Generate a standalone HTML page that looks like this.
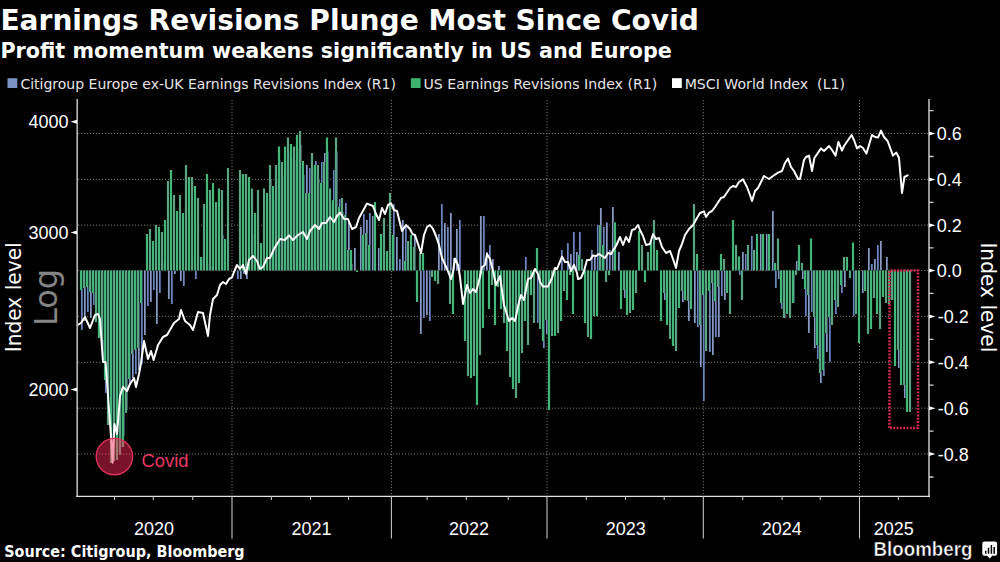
<!DOCTYPE html><html><head><meta charset="utf-8"><title>Earnings Revisions Plunge Most Since Covid</title>
<style>html,body{margin:0;padding:0;background:#000;}body{width:1000px;height:562px;overflow:hidden;}svg{display:block;}.t{font-family:"DejaVu Sans","Liberation Sans",sans-serif;font-weight:bold;fill:#fff;}.n{font-family:"Liberation Sans",sans-serif;fill:#fff;font-size:18px;}.l{font-family:"DejaVu Sans","Liberation Sans",sans-serif;fill:#e6e6e6;font-size:14.5px;}</style></head><body>
<svg width="1000" height="562" viewBox="0 0 1000 562">
<rect width="1000" height="562" fill="#000"/>
<text class="t" x="0.4" y="30.3" font-size="28.8" textLength="698.5" lengthAdjust="spacingAndGlyphs">Earnings Revisions Plunge Most Since Covid</text>
<text class="t" x="0.4" y="57.6" font-size="20.9" textLength="671.5" lengthAdjust="spacingAndGlyphs">Profit momentum weakens significantly in US and Europe</text>
<rect x="7.5" y="78.2" width="9.8" height="9.8" fill="#7b93c4"/>
<text class="l" x="20.4" y="88.8" textLength="375.6" lengthAdjust="spacingAndGlyphs">Citigroup Europe ex-UK Earnings Revisions Index (R1)</text>
<rect x="410.8" y="78.2" width="9.8" height="9.8" fill="#3db36f"/>
<text class="l" x="423.5" y="88.8" textLength="233.8" lengthAdjust="spacingAndGlyphs">US Earnings Revisions Index (R1)</text>
<rect x="672" y="78.2" width="9.8" height="9.8" fill="#ffffff"/>
<text class="l" x="684.7" y="88.8" textLength="160.3" lengthAdjust="spacingAndGlyphs" xml:space="preserve">MSCI World Index  (L1)</text>
<path d="M78 133.5 H928 M78 179.4 H928 M78 225.2 H928 M78 270.4 H928 M78 316.4 H928 M78 362.3 H928 M78 408.2 H928 M78 454 H928 M232 100 V495 M391.4 100 V495 M547 100 V495 M703.3 100 V495 M859.5 100 V495" stroke="#757575" stroke-width="1" stroke-dasharray="1.2 1.8" fill="none"/>
<path d="M80.7 270.4v59.6h2.2v-59.6zM83.7 270.4v50.6h2.2v-50.6zM86.7 270.4v41.6h2.2v-41.6zM89.7 270.4v47.6h2.2v-47.6zM92.7 270.4v34.6h2.2v-34.6zM95.7 270.4v40.6h2.2v-40.6zM98.7 270.4v67.6h2.2v-67.6zM101.7 270.4v91.6h2.2v-91.6zM104.7 270.4v122.6h2.2v-122.6zM107.7 270.4v151.6h2.2v-151.6zM110.7 270.4v179.6h2.2v-179.6zM113.7 270.4v184.6h2.2v-184.6zM116.7 270.4v181.6h2.2v-181.6zM119.7 270.4v176.6h2.2v-176.6zM122.7 270.4v165.6h2.2v-165.6zM125.7 270.4v139.6h2.2v-139.6zM128.7 270.4v114.6h2.2v-114.6zM131.7 270.4v107.6h2.2v-107.6zM134.7 270.4v103.6h2.2v-103.6zM137.7 270.4v99.6h2.2v-99.6zM140.7 270.4v93.6h2.2v-93.6zM143.7 270.4v64.6h2.2v-64.6zM146.7 270.4v35.6h2.2v-35.6zM149.7 270.4v31.6h2.2v-31.6zM152.7 270.4v19.6h2.2v-19.6zM155.7 270.4v53.6h2.2v-53.6zM158.7 270.4v22.6h2.2v-22.6zM161.7 263v7.4h2.2v-7.4zM167.7 270.4v28.6h2.2v-28.6zM170.7 270.4v33.6h2.2v-33.6zM173.7 270.4v3.6h2.2v-3.6zM179.7 270.4v10.6h2.2v-10.6zM182.7 270.4v15.6h2.2v-15.6zM194.7 270.4v8.6h2.2v-8.6zM200.7 257v13.4h2.2v-13.4zM206.7 264v6.4h2.2v-6.4zM209.7 266v4.4h2.2v-4.4zM221.7 235v35.4h2.2v-35.4zM236.7 270.4v8.6h2.2v-8.6zM239.7 270.4v8.6h2.2v-8.6zM242.7 270.4v3.6h2.2v-3.6zM245.7 270.4v8.6h2.2v-8.6zM251.7 234v36.4h2.2v-36.4zM269.7 179v91.4h2.2v-91.4zM272.7 200v70.4h2.2v-70.4zM275.7 179v91.4h2.2v-91.4zM278.7 160.6v109.8h2.2v-109.8zM281.7 176v94.4h2.2v-94.4zM284.7 160.6v109.8h2.2v-109.8zM287.7 151.4v119h2.2v-119zM290.7 158v112.4h2.2v-112.4zM293.7 160.6v109.8h2.2v-109.8zM296.7 149v121.4h2.2v-121.4zM299.7 145v125.4h2.2v-125.4zM302.7 175v95.4h2.2v-95.4zM305.7 165v105.4h2.2v-105.4zM308.7 168v102.4h2.2v-102.4zM311.7 167v103.4h2.2v-103.4zM314.7 161v109.4h2.2v-109.4zM317.7 179v91.4h2.2v-91.4zM320.7 162v108.4h2.2v-108.4zM323.7 153v117.4h2.2v-117.4zM326.7 151.4v119h2.2v-119zM329.7 202.6v67.8h2.2v-67.8zM332.7 170v100.4h2.2v-100.4zM335.7 151.4v119h2.2v-119zM338.7 199v71.4h2.2v-71.4zM341.7 212v58.4h2.2v-58.4zM344.7 203v67.4h2.2v-67.4zM347.7 222v48.4h2.2v-48.4zM350.7 264v6.4h2.2v-6.4zM353.7 248v22.4h2.2v-22.4zM359.7 227v43.4h2.2v-43.4zM362.7 214v56.4h2.2v-56.4zM365.7 220v50.4h2.2v-50.4zM368.7 213v57.4h2.2v-57.4zM371.7 216v54.4h2.2v-54.4zM377.7 248v22.4h2.2v-22.4zM392.7 204v66.4h2.2v-66.4zM395.7 237v33.4h2.2v-33.4zM398.7 259v11.4h2.2v-11.4zM401.7 220v50.4h2.2v-50.4zM404.7 227v43.4h2.2v-43.4zM413.7 235v35.4h2.2v-35.4zM419.7 270.4v63.6h2.2v-63.6zM422.7 270.4v47.6h2.2v-47.6zM425.7 270.4v44.6h2.2v-44.6zM428.7 270.4v50.6h2.2v-50.6zM437.7 234v36.4h2.2v-36.4zM440.7 204v66.4h2.2v-66.4zM443.7 223v47.4h2.2v-47.4zM446.7 227v43.4h2.2v-43.4zM449.7 213v57.4h2.2v-57.4zM452.7 258v12.4h2.2v-12.4zM455.7 229v41.4h2.2v-41.4zM458.7 220v50.4h2.2v-50.4zM479.7 216v54.4h2.2v-54.4zM482.7 216v54.4h2.2v-54.4zM485.7 252v18.4h2.2v-18.4zM488.7 245v25.4h2.2v-25.4zM491.7 259v11.4h2.2v-11.4zM497.7 266v4.4h2.2v-4.4zM524.7 257v13.4h2.2v-13.4zM536.7 270.4v52.6h2.2v-52.6zM542.7 270.4v77.6h2.2v-77.6zM545.7 270.4v63.6h2.2v-63.6zM560.7 250v20.4h2.2v-20.4zM566.7 243v27.4h2.2v-27.4zM569.7 254v16.4h2.2v-16.4zM572.7 232v38.4h2.2v-38.4zM575.7 252v18.4h2.2v-18.4zM578.7 232v38.4h2.2v-38.4zM590.7 250v20.4h2.2v-20.4zM593.7 256v14.4h2.2v-14.4zM596.7 225v45.4h2.2v-45.4zM599.7 208v62.4h2.2v-62.4zM602.7 227v43.4h2.2v-43.4zM605.7 222.6v47.8h2.2v-47.8zM608.7 250v20.4h2.2v-20.4zM611.7 207v63.4h2.2v-63.4zM617.7 252v18.4h2.2v-18.4zM623.7 270.4v27.6h2.2v-27.6zM663.7 270.4v29.6h2.2v-29.6zM681.7 270.4v31.6h2.2v-31.6zM687.7 270.4v50.6h2.2v-50.6zM693.7 270.4v52.6h2.2v-52.6zM696.7 270.4v56.6h2.2v-56.6zM699.7 270.4v96.6h2.2v-96.6zM702.7 270.4v130.6h2.2v-130.6zM708.7 270.4v81.6h2.2v-81.6zM711.7 270.4v84.6h2.2v-84.6zM714.7 270.4v66.6h2.2v-66.6zM717.7 270.4v66.6h2.2v-66.6zM720.7 270.4v25.6h2.2v-25.6zM723.7 270.4v29.6h2.2v-29.6zM738.7 270.4v4.6h2.2v-4.6zM741.7 252v18.4h2.2v-18.4zM744.7 254v16.4h2.2v-16.4zM750.7 236v34.4h2.2v-34.4zM759.7 234v36.4h2.2v-36.4zM765.7 234v36.4h2.2v-36.4zM771.7 211v59.4h2.2v-59.4zM774.7 270.4v17.6h2.2v-17.6zM777.7 270.4v8.6h2.2v-8.6zM780.7 270.4v38.6h2.2v-38.6zM783.7 270.4v47.6h2.2v-47.6zM792.7 270.4v32.6h2.2v-32.6zM795.7 261v9.4h2.2v-9.4zM801.7 270.4v8.6h2.2v-8.6zM804.7 270.4v45.6h2.2v-45.6zM807.7 270.4v62.6h2.2v-62.6zM810.7 270.4v41.6h2.2v-41.6zM813.7 270.4v77.6h2.2v-77.6zM816.7 270.4v88.6h2.2v-88.6zM819.7 270.4v112.6h2.2v-112.6zM822.7 270.4v105.6h2.2v-105.6zM825.7 270.4v81.6h2.2v-81.6zM828.7 270.4v91.6h2.2v-91.6zM834.7 270.4v43.6h2.2v-43.6zM840.7 270.4v22.6h2.2v-22.6zM843.7 270.4v16.6h2.2v-16.6zM852.7 270.4v45.6h2.2v-45.6zM861.7 270.4v22.6h2.2v-22.6zM867.7 248v22.4h2.2v-22.4zM870.7 264v6.4h2.2v-6.4zM873.7 259v11.4h2.2v-11.4zM876.7 245v25.4h2.2v-25.4zM879.7 241v29.4h2.2v-29.4zM885.7 257v13.4h2.2v-13.4zM891.7 270.4v29.6h2.2v-29.6zM897.7 270.4v97.6h2.2v-97.6zM903.7 270.4v127.6h2.2v-127.6z" fill="#141c36"/>
<path d="M81.1 270.4v59.6h1.5v-59.6zM87.1 270.4v41.6h1.5v-41.6zM93.1 270.4v34.6h1.5v-34.6zM99.1 270.4v67.6h1.5v-67.6zM105.1 270.4v122.6h1.5v-122.6zM111.1 270.4v179.6h1.5v-179.6zM117.1 270.4v181.6h1.5v-181.6zM123.1 270.4v165.6h1.5v-165.6zM129.1 270.4v114.6h1.5v-114.6zM135.1 270.4v103.6h1.5v-103.6zM141.1 270.4v93.6h1.5v-93.6zM147.1 270.4v35.6h1.5v-35.6zM153.1 270.4v19.6h1.5v-19.6zM159.1 270.4v22.6h1.5v-22.6zM171.1 270.4v33.6h1.5v-33.6zM183.1 270.4v15.6h1.5v-15.6zM195.1 270.4v8.6h1.5v-8.6zM201.1 257v13.4h1.5v-13.4zM207.1 264v6.4h1.5v-6.4zM237.1 270.4v8.6h1.5v-8.6zM243.1 270.4v3.6h1.5v-3.6zM273.1 200v70.4h1.5v-70.4zM279.1 160.6v109.8h1.5v-109.8zM285.1 160.6v109.8h1.5v-109.8zM291.1 158v112.4h1.5v-112.4zM297.1 149v121.4h1.5v-121.4zM303.1 175v95.4h1.5v-95.4zM309.1 168v102.4h1.5v-102.4zM315.1 161v109.4h1.5v-109.4zM321.1 162v108.4h1.5v-108.4zM327.1 151.4v119h1.5v-119zM333.1 170v100.4h1.5v-100.4zM339.1 199v71.4h1.5v-71.4zM345.1 203v67.4h1.5v-67.4zM351.1 264v6.4h1.5v-6.4zM363.1 214v56.4h1.5v-56.4zM369.1 213v57.4h1.5v-57.4zM393.1 204v66.4h1.5v-66.4zM399.1 259v11.4h1.5v-11.4zM405.1 227v43.4h1.5v-43.4zM423.1 270.4v47.6h1.5v-47.6zM429.1 270.4v50.6h1.5v-50.6zM441.1 204v66.4h1.5v-66.4zM447.1 227v43.4h1.5v-43.4zM453.1 258v12.4h1.5v-12.4zM459.1 220v50.4h1.5v-50.4zM483.1 216v54.4h1.5v-54.4zM489.1 245v25.4h1.5v-25.4zM525.1 257v13.4h1.5v-13.4zM537.1 270.4v52.6h1.5v-52.6zM543.1 270.4v77.6h1.5v-77.6zM561.1 250v20.4h1.5v-20.4zM567.1 243v27.4h1.5v-27.4zM573.1 232v38.4h1.5v-38.4zM579.1 232v38.4h1.5v-38.4zM591.1 250v20.4h1.5v-20.4zM597.1 225v45.4h1.5v-45.4zM603.1 227v43.4h1.5v-43.4zM609.1 250v20.4h1.5v-20.4zM697.1 270.4v56.6h1.5v-56.6zM703.1 270.4v130.6h1.5v-130.6zM709.1 270.4v81.6h1.5v-81.6zM715.1 270.4v66.6h1.5v-66.6zM721.1 270.4v25.6h1.5v-25.6zM739.1 270.4v4.6h1.5v-4.6zM745.1 254v16.4h1.5v-16.4zM751.1 236v34.4h1.5v-34.4zM775.1 270.4v17.6h1.5v-17.6zM781.1 270.4v38.6h1.5v-38.6zM793.1 270.4v32.6h1.5v-32.6zM805.1 270.4v45.6h1.5v-45.6zM811.1 270.4v41.6h1.5v-41.6zM817.1 270.4v88.6h1.5v-88.6zM823.1 270.4v105.6h1.5v-105.6zM829.1 270.4v91.6h1.5v-91.6zM835.1 270.4v43.6h1.5v-43.6zM841.1 270.4v22.6h1.5v-22.6zM853.1 270.4v45.6h1.5v-45.6zM871.1 264v6.4h1.5v-6.4zM877.1 245v25.4h1.5v-25.4z" fill="#7891cc"/>
<path d="M84.1 270.4v50.6h1.5v-50.6zM90.1 270.4v47.6h1.5v-47.6zM96.1 270.4v40.6h1.5v-40.6zM102.1 270.4v91.6h1.5v-91.6zM108.1 270.4v151.6h1.5v-151.6zM114.1 270.4v184.6h1.5v-184.6zM120.1 270.4v176.6h1.5v-176.6zM126.1 270.4v139.6h1.5v-139.6zM132.1 270.4v107.6h1.5v-107.6zM138.1 270.4v99.6h1.5v-99.6zM144.1 270.4v64.6h1.5v-64.6zM150.1 270.4v31.6h1.5v-31.6zM156.1 270.4v53.6h1.5v-53.6zM162.1 263v7.4h1.5v-7.4zM168.1 270.4v28.6h1.5v-28.6zM174.1 270.4v3.6h1.5v-3.6zM180.1 270.4v10.6h1.5v-10.6zM210.1 266v4.4h1.5v-4.4zM222.1 235v35.4h1.5v-35.4zM240.1 270.4v8.6h1.5v-8.6zM246.1 270.4v8.6h1.5v-8.6zM252.1 234v36.4h1.5v-36.4zM270.1 179v91.4h1.5v-91.4zM276.1 179v91.4h1.5v-91.4zM282.1 176v94.4h1.5v-94.4zM288.1 151.4v119h1.5v-119zM294.1 160.6v109.8h1.5v-109.8zM300.1 145v125.4h1.5v-125.4zM306.1 165v105.4h1.5v-105.4zM312.1 167v103.4h1.5v-103.4zM318.1 179v91.4h1.5v-91.4zM324.1 153v117.4h1.5v-117.4zM330.1 202.6v67.8h1.5v-67.8zM336.1 151.4v119h1.5v-119zM342.1 212v58.4h1.5v-58.4zM348.1 222v48.4h1.5v-48.4zM354.1 248v22.4h1.5v-22.4zM360.1 227v43.4h1.5v-43.4zM366.1 220v50.4h1.5v-50.4zM372.1 216v54.4h1.5v-54.4zM378.1 248v22.4h1.5v-22.4zM396.1 237v33.4h1.5v-33.4zM402.1 220v50.4h1.5v-50.4zM414.1 235v35.4h1.5v-35.4zM420.1 270.4v63.6h1.5v-63.6zM426.1 270.4v44.6h1.5v-44.6zM438.1 234v36.4h1.5v-36.4zM444.1 223v47.4h1.5v-47.4zM450.1 213v57.4h1.5v-57.4zM456.1 229v41.4h1.5v-41.4zM480.1 216v54.4h1.5v-54.4zM486.1 252v18.4h1.5v-18.4zM492.1 259v11.4h1.5v-11.4zM498.1 266v4.4h1.5v-4.4zM546.1 270.4v63.6h1.5v-63.6zM570.1 254v16.4h1.5v-16.4zM576.1 252v18.4h1.5v-18.4zM594.1 256v14.4h1.5v-14.4zM600.1 208v62.4h1.5v-62.4zM606.1 222.6v47.8h1.5v-47.8zM612.1 207v63.4h1.5v-63.4zM618.1 252v18.4h1.5v-18.4zM624.1 270.4v27.6h1.5v-27.6zM664.1 270.4v29.6h1.5v-29.6zM682.1 270.4v31.6h1.5v-31.6zM688.1 270.4v50.6h1.5v-50.6zM694.1 270.4v52.6h1.5v-52.6zM700.1 270.4v96.6h1.5v-96.6zM712.1 270.4v84.6h1.5v-84.6zM718.1 270.4v66.6h1.5v-66.6zM724.1 270.4v29.6h1.5v-29.6zM742.1 252v18.4h1.5v-18.4zM760.1 234v36.4h1.5v-36.4zM766.1 234v36.4h1.5v-36.4zM772.1 211v59.4h1.5v-59.4zM778.1 270.4v8.6h1.5v-8.6zM784.1 270.4v47.6h1.5v-47.6zM796.1 261v9.4h1.5v-9.4zM802.1 270.4v8.6h1.5v-8.6zM808.1 270.4v62.6h1.5v-62.6zM814.1 270.4v77.6h1.5v-77.6zM820.1 270.4v112.6h1.5v-112.6zM826.1 270.4v81.6h1.5v-81.6zM844.1 270.4v16.6h1.5v-16.6zM862.1 270.4v22.6h1.5v-22.6zM868.1 248v22.4h1.5v-22.4zM874.1 259v11.4h1.5v-11.4zM880.1 241v29.4h1.5v-29.4zM886.1 257v13.4h1.5v-13.4zM892.1 270.4v29.6h1.5v-29.6zM898.1 270.4v97.6h1.5v-97.6zM904.1 270.4v127.6h1.5v-127.6z" fill="#97a9d2"/>
<path d="M79.6 270.4v19.6h2.8v-19.6zM82.6 270.4v17.6h2.8v-17.6zM85.6 270.4v16.6h2.8v-16.6zM88.6 270.4v21.6h2.8v-21.6zM91.6 270.4v22.6h2.8v-22.6zM94.6 270.4v51.6h2.8v-51.6zM97.6 270.4v67.6h2.8v-67.6zM100.6 270.4v69.6h2.8v-69.6zM103.6 270.4v109.6h2.8v-109.6zM106.6 270.4v154.6h2.8v-154.6zM109.6 270.4v192.6h2.8v-192.6zM112.6 270.4v190.6h2.8v-190.6zM115.6 270.4v189.6h2.8v-189.6zM118.6 270.4v184.6h2.8v-184.6zM121.6 270.4v176.6h2.8v-176.6zM124.6 270.4v142.6h2.8v-142.6zM127.6 270.4v108.6h2.8v-108.6zM130.6 270.4v83.6h2.8v-83.6zM133.6 270.4v79.6h2.8v-79.6zM136.6 270.4v77.6h2.8v-77.6zM139.6 270.4v32.6h2.8v-32.6zM145.6 234v36.4h2.8v-36.4zM148.6 229v41.4h2.8v-41.4zM151.6 241v29.4h2.8v-29.4zM154.6 225v45.4h2.8v-45.4zM157.6 227v43.4h2.8v-43.4zM160.6 232v38.4h2.8v-38.4zM163.6 220v50.4h2.8v-50.4zM166.6 181v89.4h2.8v-89.4zM169.6 170v100.4h2.8v-100.4zM172.6 195v75.4h2.8v-75.4zM175.6 211v59.4h2.8v-59.4zM178.6 195v75.4h2.8v-75.4zM181.6 213v57.4h2.8v-57.4zM184.6 165v105.4h2.8v-105.4zM187.6 177v93.4h2.8v-93.4zM190.6 177v93.4h2.8v-93.4zM193.6 186v84.4h2.8v-84.4zM196.6 198v72.4h2.8v-72.4zM199.6 257v13.4h2.8v-13.4zM202.6 204v66.4h2.8v-66.4zM205.6 174v96.4h2.8v-96.4zM208.6 190v80.4h2.8v-80.4zM211.6 183v87.4h2.8v-87.4zM214.6 202v68.4h2.8v-68.4zM217.6 188.6v81.8h2.8v-81.8zM220.6 190v80.4h2.8v-80.4zM223.6 239v31.4h2.8v-31.4zM226.6 168v102.4h2.8v-102.4zM238.6 170v100.4h2.8v-100.4zM241.6 174v96.4h2.8v-96.4zM244.6 174v96.4h2.8v-96.4zM247.6 177v93.4h2.8v-93.4zM250.6 188.6v81.8h2.8v-81.8zM253.6 213v57.4h2.8v-57.4zM256.6 190v80.4h2.8v-80.4zM259.6 243v27.4h2.8v-27.4zM262.6 188.6v81.8h2.8v-81.8zM265.6 193v77.4h2.8v-77.4zM268.6 165v105.4h2.8v-105.4zM271.6 186v84.4h2.8v-84.4zM274.6 165v105.4h2.8v-105.4zM277.6 146.6v123.8h2.8v-123.8zM280.6 162v108.4h2.8v-108.4zM283.6 146.6v123.8h2.8v-123.8zM286.6 137.4v133h2.8v-133zM289.6 144v126.4h2.8v-126.4zM292.6 146.6v123.8h2.8v-123.8zM295.6 135v135.4h2.8v-135.4zM298.6 131v139.4h2.8v-139.4zM301.6 161v109.4h2.8v-109.4zM304.6 193v77.4h2.8v-77.4zM307.6 193v77.4h2.8v-77.4zM310.6 153v117.4h2.8v-117.4zM313.6 165v105.4h2.8v-105.4zM316.6 165v105.4h2.8v-105.4zM319.6 183v87.4h2.8v-87.4zM322.6 162v108.4h2.8v-108.4zM325.6 137.4v133h2.8v-133zM328.6 188.6v81.8h2.8v-81.8zM331.6 200v70.4h2.8v-70.4zM334.6 137.4v133h2.8v-133zM337.6 207v63.4h2.8v-63.4zM340.6 198v72.4h2.8v-72.4zM343.6 215v55.4h2.8v-55.4zM346.6 250v20.4h2.8v-20.4zM349.6 250v20.4h2.8v-20.4zM355.6 270.4v1.6h2.8v-1.6zM361.6 235v35.4h2.8v-35.4zM364.6 233v37.4h2.8v-37.4zM367.6 245v25.4h2.8v-25.4zM373.6 202v68.4h2.8v-68.4zM379.6 234v36.4h2.8v-36.4zM382.6 218v52.4h2.8v-52.4zM385.6 251v19.4h2.8v-19.4zM388.6 193v77.4h2.8v-77.4zM391.6 235v35.4h2.8v-35.4zM403.6 261v9.4h2.8v-9.4zM406.6 241v29.4h2.8v-29.4zM409.6 235v35.4h2.8v-35.4zM412.6 247v23.4h2.8v-23.4zM415.6 270.4v31.6h2.8v-31.6zM418.6 253v17.4h2.8v-17.4zM421.6 253v17.4h2.8v-17.4zM430.6 270.4v6.6h2.8v-6.6zM433.6 270.4v10.6h2.8v-10.6zM436.6 270.4v13.6h2.8v-13.6zM448.6 270.4v33.6h2.8v-33.6zM451.6 270.4v43.6h2.8v-43.6zM463.6 270.4v70.6h2.8v-70.6zM466.6 270.4v105.6h2.8v-105.6zM469.6 270.4v107.6h2.8v-107.6zM472.6 270.4v105.6h2.8v-105.6zM475.6 270.4v134.6h2.8v-134.6zM478.6 270.4v84.6h2.8v-84.6zM481.6 270.4v57.6h2.8v-57.6zM487.6 270.4v38.6h2.8v-38.6zM490.6 270.4v14.6h2.8v-14.6zM493.6 270.4v54.6h2.8v-54.6zM496.6 270.4v16.6h2.8v-16.6zM499.6 270.4v38.6h2.8v-38.6zM502.6 270.4v52.6h2.8v-52.6zM505.6 270.4v80.6h2.8v-80.6zM508.6 270.4v106.6h2.8v-106.6zM511.6 270.4v118.6h2.8v-118.6zM514.6 270.4v127.6h2.8v-127.6zM517.6 270.4v112.6h2.8v-112.6zM520.6 270.4v82.6h2.8v-82.6zM523.6 270.4v50.6h2.8v-50.6zM526.6 270.4v74.6h2.8v-74.6zM529.6 270.4v24.6h2.8v-24.6zM532.6 270.4v52.6h2.8v-52.6zM535.6 248v22.4h2.8v-22.4zM538.6 270.4v58.6h2.8v-58.6zM541.6 270.4v70.6h2.8v-70.6zM544.6 270.4v49.6h2.8v-49.6zM547.6 270.4v139.6h2.8v-139.6zM550.6 270.4v65.6h2.8v-65.6zM553.6 270.4v65.6h2.8v-65.6zM556.6 270.4v62.6h2.8v-62.6zM559.6 270.4v50.6h2.8v-50.6zM562.6 270.4v20.6h2.8v-20.6zM565.6 270.4v29.6h2.8v-29.6zM568.6 270.4v4.6h2.8v-4.6zM571.6 270.4v43.6h2.8v-43.6zM577.6 255v15.4h2.8v-15.4zM580.6 259v11.4h2.8v-11.4zM583.6 270.4v52.6h2.8v-52.6zM586.6 270.4v66.6h2.8v-66.6zM589.6 270.4v68.6h2.8v-68.6zM592.6 270.4v45.6h2.8v-45.6zM595.6 270.4v45.6h2.8v-45.6zM598.6 225v45.4h2.8v-45.4zM601.6 245v25.4h2.8v-25.4zM604.6 270.4v11.6h2.8v-11.6zM607.6 270.4v4.6h2.8v-4.6zM613.6 222.6v47.8h2.8v-47.8zM619.6 270.4v38.6h2.8v-38.6zM622.6 270.4v19.6h2.8v-19.6zM625.6 270.4v44.6h2.8v-44.6zM628.6 270.4v42.6h2.8v-42.6zM631.6 270.4v39.6h2.8v-39.6zM634.6 270.4v22.6h2.8v-22.6zM637.6 231v39.4h2.8v-39.4zM640.6 245v25.4h2.8v-25.4zM643.6 270.4v11.6h2.8v-11.6zM646.6 252v18.4h2.8v-18.4zM649.6 242v28.4h2.8v-28.4zM652.6 220v50.4h2.8v-50.4zM655.6 250v20.4h2.8v-20.4zM659.6 270.4v50.6h2.8v-50.6zM662.6 270.4v22.6h2.8v-22.6zM665.6 270.4v54.6h2.8v-54.6zM668.6 270.4v68.6h2.8v-68.6zM671.6 270.4v75.6h2.8v-75.6zM674.6 270.4v80.6h2.8v-80.6zM677.6 270.4v37.6h2.8v-37.6zM680.6 270.4v20.6h2.8v-20.6zM683.6 270.4v29.6h2.8v-29.6zM686.6 270.4v30.6h2.8v-30.6zM689.6 270.4v38.6h2.8v-38.6zM692.6 204v66.4h2.8v-66.4zM695.6 254v16.4h2.8v-16.4zM698.6 270.4v54.6h2.8v-54.6zM701.6 270.4v24.6h2.8v-24.6zM704.6 270.4v80.6h2.8v-80.6zM707.6 270.4v20.6h2.8v-20.6zM710.6 270.4v12.6h2.8v-12.6zM713.6 270.4v30.6h2.8v-30.6zM716.6 270.4v16.6h2.8v-16.6zM719.6 254v16.4h2.8v-16.4zM722.6 259v11.4h2.8v-11.4zM725.6 270.4v22.6h2.8v-22.6zM728.6 270.4v43.6h2.8v-43.6zM731.6 220v50.4h2.8v-50.4zM734.6 245v25.4h2.8v-25.4zM737.6 256.6v13.8h2.8v-13.8zM740.6 270.4v29.6h2.8v-29.6zM746.6 245v25.4h2.8v-25.4zM752.6 250v20.4h2.8v-20.4zM755.6 234v36.4h2.8v-36.4zM761.6 234v36.4h2.8v-36.4zM767.6 234v36.4h2.8v-36.4zM773.6 263v7.4h2.8v-7.4zM776.6 238.6v31.8h2.8v-31.8zM779.6 270.4v32.6h2.8v-32.6zM782.6 270.4v47.6h2.8v-47.6zM785.6 270.4v43.6h2.8v-43.6zM788.6 270.4v47.6h2.8v-47.6zM791.6 270.4v32.6h2.8v-32.6zM794.6 270.4v4.6h2.8v-4.6zM797.6 245v25.4h2.8v-25.4zM800.6 263v7.4h2.8v-7.4zM803.6 270.4v18.6h2.8v-18.6zM806.6 270.4v24.6h2.8v-24.6zM809.6 238.6v31.8h2.8v-31.8zM812.6 270.4v46.6h2.8v-46.6zM815.6 270.4v74.6h2.8v-74.6zM818.6 270.4v102.6h2.8v-102.6zM821.6 270.4v99.6h2.8v-99.6zM824.6 270.4v62.6h2.8v-62.6zM827.6 270.4v46.6h2.8v-46.6zM830.6 270.4v54.6h2.8v-54.6zM833.6 270.4v29.6h2.8v-29.6zM836.6 270.4v36.6h2.8v-36.6zM839.6 270.4v14.6h2.8v-14.6zM842.6 257v13.4h2.8v-13.4zM845.6 257v13.4h2.8v-13.4zM848.6 270.4v7.6h2.8v-7.6zM851.6 242.6v27.8h2.8v-27.8zM854.6 270.4v43.6h2.8v-43.6zM857.6 270.4v72.6h2.8v-72.6zM863.6 270.4v20.6h2.8v-20.6zM866.6 270.4v63.6h2.8v-63.6zM869.6 270.4v58.6h2.8v-58.6zM872.6 270.4v27.6h2.8v-27.6zM875.6 270.4v43.6h2.8v-43.6zM878.6 270.4v58.6h2.8v-58.6zM881.6 270.4v26.6h2.8v-26.6zM884.6 270.4v32.6h2.8v-32.6zM887.6 270.4v33.6h2.8v-33.6zM890.6 270.4v29.6h2.8v-29.6zM893.6 270.4v95.6h2.8v-95.6zM896.6 270.4v79.6h2.8v-79.6zM899.6 270.4v114.6h2.8v-114.6zM902.6 270.4v114.6h2.8v-114.6zM905.6 270.4v141.6h2.8v-141.6zM908.6 270.4v141.6h2.8v-141.6z" fill="#04301a"/>
<path d="M80.1 270.4v19.6h1.8v-19.6zM86.1 270.4v16.6h1.8v-16.6zM92.1 270.4v22.6h1.8v-22.6zM98.1 270.4v67.6h1.8v-67.6zM104.1 270.4v109.6h1.8v-109.6zM110.1 270.4v192.6h1.8v-192.6zM116.1 270.4v189.6h1.8v-189.6zM122.1 270.4v176.6h1.8v-176.6zM128.1 270.4v108.6h1.8v-108.6zM134.1 270.4v79.6h1.8v-79.6zM140.1 270.4v32.6h1.8v-32.6zM146.1 234v36.4h1.8v-36.4zM152.1 241v29.4h1.8v-29.4zM158.1 227v43.4h1.8v-43.4zM164.1 220v50.4h1.8v-50.4zM170.1 170v100.4h1.8v-100.4zM176.1 211v59.4h1.8v-59.4zM182.1 213v57.4h1.8v-57.4zM188.1 177v93.4h1.8v-93.4zM194.1 186v84.4h1.8v-84.4zM200.1 257v13.4h1.8v-13.4zM206.1 174v96.4h1.8v-96.4zM212.1 183v87.4h1.8v-87.4zM218.1 188.6v81.8h1.8v-81.8zM224.1 239v31.4h1.8v-31.4zM242.1 174v96.4h1.8v-96.4zM248.1 177v93.4h1.8v-93.4zM254.1 213v57.4h1.8v-57.4zM260.1 243v27.4h1.8v-27.4zM266.1 193v77.4h1.8v-77.4zM272.1 186v84.4h1.8v-84.4zM278.1 146.6v123.8h1.8v-123.8zM284.1 146.6v123.8h1.8v-123.8zM290.1 144v126.4h1.8v-126.4zM296.1 135v135.4h1.8v-135.4zM302.1 161v109.4h1.8v-109.4zM308.1 193v77.4h1.8v-77.4zM314.1 165v105.4h1.8v-105.4zM320.1 183v87.4h1.8v-87.4zM326.1 137.4v133h1.8v-133zM332.1 200v70.4h1.8v-70.4zM338.1 207v63.4h1.8v-63.4zM344.1 215v55.4h1.8v-55.4zM350.1 250v20.4h1.8v-20.4zM356.1 270.4v1.6h1.8v-1.6zM362.1 235v35.4h1.8v-35.4zM368.1 245v25.4h1.8v-25.4zM374.1 202v68.4h1.8v-68.4zM380.1 234v36.4h1.8v-36.4zM386.1 251v19.4h1.8v-19.4zM392.1 235v35.4h1.8v-35.4zM404.1 261v9.4h1.8v-9.4zM410.1 235v35.4h1.8v-35.4zM416.1 270.4v31.6h1.8v-31.6zM422.1 253v17.4h1.8v-17.4zM434.1 270.4v10.6h1.8v-10.6zM452.1 270.4v43.6h1.8v-43.6zM464.1 270.4v70.6h1.8v-70.6zM470.1 270.4v107.6h1.8v-107.6zM476.1 270.4v134.6h1.8v-134.6zM482.1 270.4v57.6h1.8v-57.6zM488.1 270.4v38.6h1.8v-38.6zM494.1 270.4v54.6h1.8v-54.6zM500.1 270.4v38.6h1.8v-38.6zM506.1 270.4v80.6h1.8v-80.6zM512.1 270.4v118.6h1.8v-118.6zM518.1 270.4v112.6h1.8v-112.6zM524.1 270.4v50.6h1.8v-50.6zM530.1 270.4v24.6h1.8v-24.6zM536.1 248v22.4h1.8v-22.4zM542.1 270.4v70.6h1.8v-70.6zM548.1 270.4v139.6h1.8v-139.6zM554.1 270.4v65.6h1.8v-65.6zM560.1 270.4v50.6h1.8v-50.6zM566.1 270.4v29.6h1.8v-29.6zM572.1 270.4v43.6h1.8v-43.6zM578.1 255v15.4h1.8v-15.4zM584.1 270.4v52.6h1.8v-52.6zM590.1 270.4v68.6h1.8v-68.6zM596.1 270.4v45.6h1.8v-45.6zM602.1 245v25.4h1.8v-25.4zM608.1 270.4v4.6h1.8v-4.6zM614.1 222.6v47.8h1.8v-47.8zM620.1 270.4v38.6h1.8v-38.6zM626.1 270.4v44.6h1.8v-44.6zM632.1 270.4v39.6h1.8v-39.6zM638.1 231v39.4h1.8v-39.4zM644.1 270.4v11.6h1.8v-11.6zM650.1 242v28.4h1.8v-28.4zM656.1 250v20.4h1.8v-20.4zM660.1 270.4v50.6h1.8v-50.6zM666.1 270.4v54.6h1.8v-54.6zM672.1 270.4v75.6h1.8v-75.6zM678.1 270.4v37.6h1.8v-37.6zM684.1 270.4v29.6h1.8v-29.6zM690.1 270.4v38.6h1.8v-38.6zM696.1 254v16.4h1.8v-16.4zM702.1 270.4v24.6h1.8v-24.6zM708.1 270.4v20.6h1.8v-20.6zM714.1 270.4v30.6h1.8v-30.6zM720.1 254v16.4h1.8v-16.4zM726.1 270.4v22.6h1.8v-22.6zM732.1 220v50.4h1.8v-50.4zM738.1 256.6v13.8h1.8v-13.8zM756.1 234v36.4h1.8v-36.4zM762.1 234v36.4h1.8v-36.4zM768.1 234v36.4h1.8v-36.4zM774.1 263v7.4h1.8v-7.4zM780.1 270.4v32.6h1.8v-32.6zM786.1 270.4v43.6h1.8v-43.6zM792.1 270.4v32.6h1.8v-32.6zM798.1 245v25.4h1.8v-25.4zM804.1 270.4v18.6h1.8v-18.6zM810.1 238.6v31.8h1.8v-31.8zM816.1 270.4v74.6h1.8v-74.6zM822.1 270.4v99.6h1.8v-99.6zM828.1 270.4v46.6h1.8v-46.6zM834.1 270.4v29.6h1.8v-29.6zM840.1 270.4v14.6h1.8v-14.6zM846.1 257v13.4h1.8v-13.4zM852.1 242.6v27.8h1.8v-27.8zM858.1 270.4v72.6h1.8v-72.6zM864.1 270.4v20.6h1.8v-20.6zM870.1 270.4v58.6h1.8v-58.6zM876.1 270.4v43.6h1.8v-43.6zM882.1 270.4v26.6h1.8v-26.6zM888.1 270.4v33.6h1.8v-33.6zM894.1 270.4v95.6h1.8v-95.6zM900.1 270.4v114.6h1.8v-114.6zM906.1 270.4v141.6h1.8v-141.6z" fill="#4bc684"/>
<path d="M83.1 270.4v17.6h1.8v-17.6zM89.1 270.4v21.6h1.8v-21.6zM95.1 270.4v51.6h1.8v-51.6zM101.1 270.4v69.6h1.8v-69.6zM107.1 270.4v154.6h1.8v-154.6zM113.1 270.4v190.6h1.8v-190.6zM119.1 270.4v184.6h1.8v-184.6zM125.1 270.4v142.6h1.8v-142.6zM131.1 270.4v83.6h1.8v-83.6zM137.1 270.4v77.6h1.8v-77.6zM149.1 229v41.4h1.8v-41.4zM155.1 225v45.4h1.8v-45.4zM161.1 232v38.4h1.8v-38.4zM167.1 181v89.4h1.8v-89.4zM173.1 195v75.4h1.8v-75.4zM179.1 195v75.4h1.8v-75.4zM185.1 165v105.4h1.8v-105.4zM191.1 177v93.4h1.8v-93.4zM197.1 198v72.4h1.8v-72.4zM203.1 204v66.4h1.8v-66.4zM209.1 190v80.4h1.8v-80.4zM215.1 202v68.4h1.8v-68.4zM221.1 190v80.4h1.8v-80.4zM227.1 168v102.4h1.8v-102.4zM239.1 170v100.4h1.8v-100.4zM245.1 174v96.4h1.8v-96.4zM251.1 188.6v81.8h1.8v-81.8zM257.1 190v80.4h1.8v-80.4zM263.1 188.6v81.8h1.8v-81.8zM269.1 165v105.4h1.8v-105.4zM275.1 165v105.4h1.8v-105.4zM281.1 162v108.4h1.8v-108.4zM287.1 137.4v133h1.8v-133zM293.1 146.6v123.8h1.8v-123.8zM299.1 131v139.4h1.8v-139.4zM305.1 193v77.4h1.8v-77.4zM311.1 153v117.4h1.8v-117.4zM317.1 165v105.4h1.8v-105.4zM323.1 162v108.4h1.8v-108.4zM329.1 188.6v81.8h1.8v-81.8zM335.1 137.4v133h1.8v-133zM341.1 198v72.4h1.8v-72.4zM347.1 250v20.4h1.8v-20.4zM365.1 233v37.4h1.8v-37.4zM383.1 218v52.4h1.8v-52.4zM389.1 193v77.4h1.8v-77.4zM407.1 241v29.4h1.8v-29.4zM413.1 247v23.4h1.8v-23.4zM419.1 253v17.4h1.8v-17.4zM431.1 270.4v6.6h1.8v-6.6zM437.1 270.4v13.6h1.8v-13.6zM449.1 270.4v33.6h1.8v-33.6zM467.1 270.4v105.6h1.8v-105.6zM473.1 270.4v105.6h1.8v-105.6zM479.1 270.4v84.6h1.8v-84.6zM491.1 270.4v14.6h1.8v-14.6zM497.1 270.4v16.6h1.8v-16.6zM503.1 270.4v52.6h1.8v-52.6zM509.1 270.4v106.6h1.8v-106.6zM515.1 270.4v127.6h1.8v-127.6zM521.1 270.4v82.6h1.8v-82.6zM527.1 270.4v74.6h1.8v-74.6zM533.1 270.4v52.6h1.8v-52.6zM539.1 270.4v58.6h1.8v-58.6zM545.1 270.4v49.6h1.8v-49.6zM551.1 270.4v65.6h1.8v-65.6zM557.1 270.4v62.6h1.8v-62.6zM563.1 270.4v20.6h1.8v-20.6zM569.1 270.4v4.6h1.8v-4.6zM581.1 259v11.4h1.8v-11.4zM587.1 270.4v66.6h1.8v-66.6zM593.1 270.4v45.6h1.8v-45.6zM599.1 225v45.4h1.8v-45.4zM605.1 270.4v11.6h1.8v-11.6zM623.1 270.4v19.6h1.8v-19.6zM629.1 270.4v42.6h1.8v-42.6zM635.1 270.4v22.6h1.8v-22.6zM641.1 245v25.4h1.8v-25.4zM647.1 252v18.4h1.8v-18.4zM653.1 220v50.4h1.8v-50.4zM663.1 270.4v22.6h1.8v-22.6zM669.1 270.4v68.6h1.8v-68.6zM675.1 270.4v80.6h1.8v-80.6zM681.1 270.4v20.6h1.8v-20.6zM687.1 270.4v30.6h1.8v-30.6zM693.1 204v66.4h1.8v-66.4zM699.1 270.4v54.6h1.8v-54.6zM705.1 270.4v80.6h1.8v-80.6zM711.1 270.4v12.6h1.8v-12.6zM717.1 270.4v16.6h1.8v-16.6zM723.1 259v11.4h1.8v-11.4zM729.1 270.4v43.6h1.8v-43.6zM735.1 245v25.4h1.8v-25.4zM741.1 270.4v29.6h1.8v-29.6zM747.1 245v25.4h1.8v-25.4zM753.1 250v20.4h1.8v-20.4zM777.1 238.6v31.8h1.8v-31.8zM783.1 270.4v47.6h1.8v-47.6zM789.1 270.4v47.6h1.8v-47.6zM795.1 270.4v4.6h1.8v-4.6zM801.1 263v7.4h1.8v-7.4zM807.1 270.4v24.6h1.8v-24.6zM813.1 270.4v46.6h1.8v-46.6zM819.1 270.4v102.6h1.8v-102.6zM825.1 270.4v62.6h1.8v-62.6zM831.1 270.4v54.6h1.8v-54.6zM837.1 270.4v36.6h1.8v-36.6zM843.1 257v13.4h1.8v-13.4zM849.1 270.4v7.6h1.8v-7.6zM855.1 270.4v43.6h1.8v-43.6zM867.1 270.4v63.6h1.8v-63.6zM873.1 270.4v27.6h1.8v-27.6zM879.1 270.4v58.6h1.8v-58.6zM885.1 270.4v32.6h1.8v-32.6zM891.1 270.4v29.6h1.8v-29.6zM897.1 270.4v79.6h1.8v-79.6zM903.1 270.4v114.6h1.8v-114.6zM909.1 270.4v141.6h1.8v-141.6z" fill="#66b08f"/>
<path d="M889.5 428 V270.5 H918 V428 Z" fill="none" stroke="#d62a52" stroke-width="2.5" stroke-dasharray="1.9 1.4"/>
<polyline points="77.6,325 81,323 85,317 90,328 95,315 98,314 100,319 103,362 105.6,362 109,410 111,436 112.6,462.8 114.4,424 117,434 120,396 123,387 127,391 130,384 134,378 136,387 139,374 141,363 144,341 148,359 151,351 153.6,360 158,345 163,337 167,335 174,323 179,319 181,310 185,321 190,325 193,330 198,312 203,313 208,336 210,315 213,299 217,295 220,285 223,282 226,284 229,279 232,277.4 234,272 237,265 240,269 243,265 246,274 249,260 253,256 257,261 260,269 263,267 267,258 270,258 274,249 280,239 285,240 289,235.4 293,240 298,235 303,232 307,239 310,231 315,225 319,229 322,223 326,223 330,217 334,222 337,216 340,212.6 344,219 348,219 352,229 356,227 359,218 364,209 367,203.6 373,206 376,214 379,220 382,208 385,214 388,205 391,203.4 394,210 397,211 402,231 406,225 410,229 412.4,234 415,235 418,244 421,253 424,235 427,227 430,225 433,229 436,236 439,245 442,258 447,269 451,279 453,272 455,258.6 458,265 460,277 463,304 467,285 470,293 473,289 476,292 480,277 482,267 485,265 487,254 490,259 493,271 496,285 500,276 504,305 509,321 512,318 515,321 519,302 521,295 524,300 528,279 531,278 534,271 535,269 538,274 540,282 543,286.6 548,286.6 552,278 555,268 557,269 562,256.6 565,262 568,262 571,271 574,265 577,273 578,279 581,278 584,271 587,260 590,260 593,255.4 596,256 599,254 602,256 605,258 608,253 611,254 614,249 616,246 620,237 623,245 626,237 629,242 632,230 635,229 638,225 640,230 643,236 646,245 650,244 653,234 656,239 659,238 662,247 666,253 670,251 673,259 676,268 679,251 682,244 685,235 689,229 693,225 697,218 700,213 704,211.4 706,217 709,212.6 712,211 715,207 721,198 724,197 730,188 733,186 736,187 739,182 743,179.4 747,187 750,195 752,201 755,191 758,188 764,176 769,179 773,176 778,172.6 782,171 785,163 788,158.6 791,167 794,171 798,179 800,179 804,160 806,157 809,155.6 812,171 814.4,158 821,148.4 824,151 829,146 832,150 835.6,155.6 838.4,142 842,150.6 844,146 851.6,135 854,140 857,148.4 860,146 863,148 866.4,153.6 872,135 875,137 878,137.6 881,130.6 884,137 887.6,141 893,155.6 896.4,152.6 899,158 902,193 904.4,177 907.6,175.4" fill="none" stroke="#fff" stroke-width="2" stroke-linejoin="round" stroke-linecap="round"/>
<circle cx="114.4" cy="456.6" r="18.2" fill="#ff2858" fill-opacity="0.47" stroke="#d9315a" stroke-width="1.4"/>
<text x="141.5" y="466.5" font-family="&quot;Liberation Sans&quot;,sans-serif" font-size="18.4" fill="#ea3a62" textLength="47" lengthAdjust="spacingAndGlyphs">Covid</text>
<path d="M77.2 99 V496.9 M929 99 V496.9" fill="none" stroke="#b0b0b0" stroke-width="1.7"/>
<path d="M76.3 496.3 H929.9" fill="none" stroke="#e4e4e4" stroke-width="1.3"/>
<path d="M232 496 V538.5 M391.4 496 V538.5 M547 496 V538.5 M703.3 496 V538.5 M859.5 496 V538.5 M114.5 496 v4 M153.3 496 v4 M192.7 496 v4 M271.4 496 v4 M310.5 496 v4 M348.5 496 v4 M427.1 496 v4 M466.3 496 v4 M508.2 496 v4 M586.3 496 v4 M625.5 496 v4 M664.2 496 v4 M742.7 496 v4 M782.1 496 v4 M820.2 496 v4 M898.4 496 v4" stroke="#c4c4c4" stroke-width="1.1" fill="none"/>
<text class="n" x="154" y="534.8" text-anchor="middle">2020</text>
<text class="n" x="311.5" y="534.8" text-anchor="middle">2021</text>
<text class="n" x="469" y="534.8" text-anchor="middle">2022</text>
<text class="n" x="625.7" y="534.8" text-anchor="middle">2023</text>
<text class="n" x="781.8" y="534.8" text-anchor="middle">2024</text>
<text class="n" x="893.7" y="534.8" text-anchor="middle">2025</text>
<text class="n" x="68.5" y="128.2" text-anchor="end">4000</text>
<path d="M70.5 121.7 L77 119.7 V123.7 z" fill="#fff"/>
<text class="n" x="68.5" y="239" text-anchor="end">3000</text>
<path d="M70.5 232.5 L77 230.5 V234.5 z" fill="#fff"/>
<text class="n" x="68.5" y="396" text-anchor="end">2000</text>
<path d="M70.5 389.5 L77 387.5 V391.5 z" fill="#fff"/>
<text class="n" x="936.7" y="140">0.6</text>
<path d="M935.5 133.5 L929 131.5 V135.5 z" fill="#fff"/>
<text class="n" x="936.7" y="185.9">0.4</text>
<path d="M935.5 179.4 L929 177.4 V181.4 z" fill="#fff"/>
<text class="n" x="936.7" y="231.7">0.2</text>
<path d="M935.5 225.2 L929 223.2 V227.2 z" fill="#fff"/>
<text class="n" x="936.7" y="276.9">0.0</text>
<path d="M935.5 270.4 L929 268.4 V272.4 z" fill="#fff"/>
<text class="n" x="937.8" y="322.9">-0.2</text>
<path d="M935.5 316.4 L929 314.4 V318.4 z" fill="#fff"/>
<text class="n" x="937.8" y="368.8">-0.4</text>
<path d="M935.5 362.3 L929 360.3 V364.3 z" fill="#fff"/>
<text class="n" x="937.8" y="414.7">-0.6</text>
<path d="M935.5 408.2 L929 406.2 V410.2 z" fill="#fff"/>
<text class="n" x="937.8" y="460.5">-0.8</text>
<path d="M935.5 454 L929 452 V456 z" fill="#fff"/>
<path d="M929 110.6 h4.5 M929 156.5 h4.5 M929 202.3 h4.5 M929 247.8 h4.5 M929 293.4 h4.5 M929 339.3 h4.5 M929 385.2 h4.5 M929 431.1 h4.5 M929 477 h4.5" stroke="#d0d0d0" stroke-width="1.3" fill="none"/>
<text transform="translate(20.6,352.3) rotate(-90)" font-family="&quot;DejaVu Sans&quot;,sans-serif" font-size="20.4" fill="#fff" textLength="110" lengthAdjust="spacingAndGlyphs">Index level</text>
<text transform="translate(57.2,326) rotate(-90)" font-family="&quot;DejaVu Sans&quot;,sans-serif" font-size="32" fill="#858585">Log</text>
<text transform="translate(980.6,242.4) rotate(90)" font-family="&quot;DejaVu Sans&quot;,sans-serif" font-size="20.4" fill="#fff" textLength="110" lengthAdjust="spacingAndGlyphs">Index level</text>
<text class="t" x="4.2" y="557.2" font-size="15.4" textLength="240.5" lengthAdjust="spacingAndGlyphs">Source: Citigroup, Bloomberg</text>
<text x="873.6" y="555.5" font-family="&quot;Liberation Sans&quot;,sans-serif" font-weight="bold" font-size="19.3" fill="#fff" stroke="#000" stroke-width="0.45" textLength="98.8" lengthAdjust="spacingAndGlyphs">Bloomberg</text>
<path d="M984.5 541.4 h10.4 a2.2 2.2 0 0 1 2.2 2.2 v10 a2.2 2.2 0 0 1 -2.2 2.2 h-2.7 l-2.5 2.7 l-2.5 -2.7 h-2.7 a2.2 2.2 0 0 1 -2.2 -2.2 v-10 a2.2 2.2 0 0 1 2.2 -2.2 z" fill="#fff"/>
<path d="M985.7 550.8 v3 M988.5 547.7 v6.1 M991.4 545 v8.8 M994.2 547 v6.8" stroke="#000" stroke-width="1.5" fill="none"/>
</svg></body></html>
